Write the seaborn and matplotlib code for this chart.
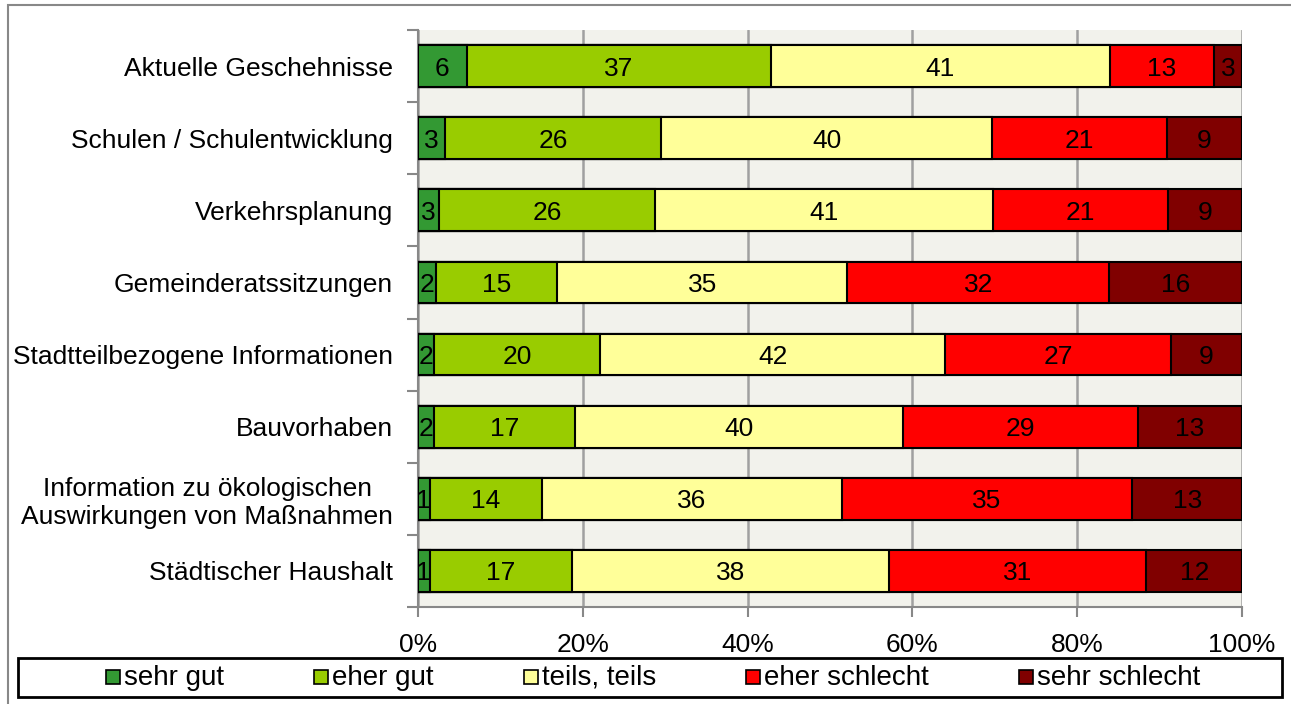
import numpy as np
import pandas as pd
import matplotlib
matplotlib.use("Agg")
import matplotlib.pyplot as plt
from matplotlib.patches import Rectangle
import seaborn as sns

themen = [
    "Aktuelle Geschehnisse",
    "Schulen / Schulentwicklung",
    "Verkehrsplanung",
    "Gemeinderatssitzungen",
    "Stadtteilbezogene Informationen",
    "Bauvorhaben",
    "Information zu ökologischen\nAuswirkungen von Maßnahmen",
    "Städtischer Haushalt",
]
stufen = ["sehr gut", "eher gut", "teils, teils", "eher schlecht", "sehr schlecht"]
farben = ["#339933", "#99cc00", "#ffff99", "#ff0000", "#800000"]

# Anteile in Prozent
sehr_gut = [5.9, 3.3, 2.6, 2.2, 1.9, 1.9, 1.4, 1.4]
eher_gut = [36.9, 26.2, 26.2, 14.7, 20.2, 17.2, 13.6, 17.3]
teils_teils = [41.2, 40.2, 41.0, 35.2, 41.9, 39.7, 36.4, 38.4]
eher_schlecht = [12.6, 21.2, 21.2, 31.8, 27.4, 28.6, 35.3, 31.3]
sehr_schlecht = [3.4, 9.1, 9.0, 16.1, 8.6, 12.6, 13.3, 11.6]

x_ticks = [0, 20, 40, 60, 80, 100]

sns.set_style("white")
plt.rcParams["font.family"] = ["Liberation Sans", "DejaVu Sans"]
plt.rcParams["text.color"] = "black"
plt.rcParams["xtick.labelcolor"] = "black"
plt.rcParams["ytick.labelcolor"] = "black"

fs = 19
W, H = 1291, 704

df = pd.DataFrame({"thema": themen})
werte = [sehr_gut, eher_gut, teils_teils, eher_schlecht, sehr_schlecht]
for name, w in zip(stufen, werte):
    df[name] = w
cum = df[stufen].cumsum(axis=1)

fig = plt.figure(figsize=(W / 100, H / 100), dpi=100)
ax = fig.add_axes([418 / W, 1 - 607 / H, 824 / W, 577 / H])
ax.set_facecolor("#f2f2ec")

# gestapelte Balken: kumulierte Summen von hinten nach vorne
for i in reversed(range(len(stufen))):
    sns.barplot(x=cum[stufen[i]], y=df["thema"], order=themen, orient="h",
                color=farben[i], saturation=1, width=0.58,
                edgecolor="black", linewidth=1.5, ax=ax, zorder=3)

# Beschriftungen
for r in range(len(themen)):
    start = 0
    for s in stufen:
        v = df.loc[r, s]
        ax.text(start + v / 2, r, f"{v:.0f}", ha="center", va="center_baseline",
                fontsize=fs, color="black", zorder=5)
        start += v

ax.set_xlim(0, 100)
ax.set_ylim(len(themen) - 0.5, -0.5)
ax.set_xticks(x_ticks)
ax.set_xticklabels([f"{t}%" for t in x_ticks], fontsize=fs)
ax.set_xlabel("")
ax.set_ylabel("")
ax.set_yticks(range(len(themen)))
ax.set_yticklabels(themen, fontsize=fs)
for lab in ax.get_yticklabels():
    lab.set_multialignment("center")
ax.set_yticks(np.arange(-0.5, len(themen), 1), minor=True)

ax.xaxis.grid(True, color="#a0a0a0", linewidth=1.8, zorder=0)
ax.set_axisbelow(True)
ax.tick_params(axis="y", which="major", left=False, length=0, pad=18)
ax.tick_params(axis="y", which="minor", left=True, length=8, width=1.5, color="#888888")
ax.tick_params(axis="x", which="major", bottom=True, length=7, width=1.5,
               color="#888888", pad=12)

for side in ["top", "right"]:
    ax.spines[side].set_visible(False)
for side in ["left", "bottom"]:
    ax.spines[side].set_color("#888888")
    ax.spines[side].set_linewidth(1.5)

# Rahmen um das Diagramm
fig.patches.append(Rectangle((8 / W, -0.02), 1.05, 1.02 - 5 / H,
                             transform=fig.transFigure, fill=False,
                             edgecolor="#888888", linewidth=1.5))
# Rahmen der Legende
fig.patches.append(Rectangle((18 / W, 7 / H), 1264 / W, 39 / H,
                             transform=fig.transFigure, fill=False,
                             edgecolor="black", linewidth=2))

# Legende: Einträge in einer Zeile, gleiche Abstände, zentriert
renderer = fig.canvas.get_renderer()
leg_fs = 20
box, gap_txt, gap_col = 14, 4, 90
texte = []
for s in stufen:
    t = fig.text(0, 0, s, fontsize=leg_fs, va="baseline", ha="left")
    texte.append(t)
breiten = [t.get_window_extent(renderer).width for t in texte]
gesamt = sum(box + gap_txt + b for b in breiten) + gap_col * (len(stufen) - 1)
x = 653 - gesamt / 2
for t, b, c in zip(texte, breiten, farben):
    fig.patches.append(Rectangle((x / W, (27 - box / 2) / H), box / W, box / H,
                                 transform=fig.transFigure, facecolor=c,
                                 edgecolor="black", linewidth=1.2))
    t.set_position(((x + box + gap_txt) / W, 19 / H))
    x += box + gap_txt + b + gap_col

fig.savefig("out.png", dpi=100)
